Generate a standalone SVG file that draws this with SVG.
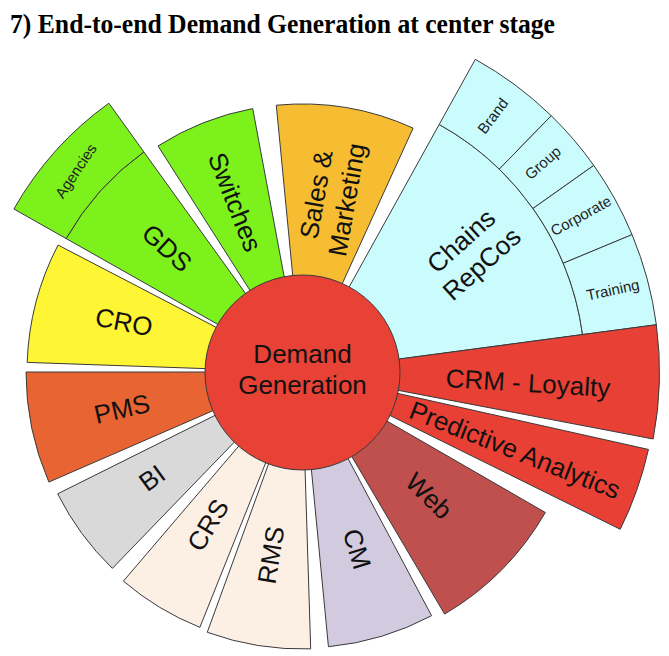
<svg xmlns="http://www.w3.org/2000/svg" width="669" height="656" viewBox="0 0 669 656">
<style>
.seg{stroke:#3a3a3a;stroke-width:1;stroke-linejoin:round}
.lbl{font-family:"Liberation Sans",Arial,sans-serif;font-size:26px;fill:#111;text-anchor:middle}
.sm{font-family:"Liberation Sans",Arial,sans-serif;font-size:15px;fill:#222;text-anchor:middle}
.title{font-family:"Liberation Serif","Times New Roman",serif;font-weight:bold;font-size:28px;fill:#000}
</style>
<rect width="669" height="656" fill="#fff"/>
<text class="title" x="10" y="33" textLength="545" lengthAdjust="spacingAndGlyphs">7) End-to-end Demand Generation at center stage</text>

<g id="cro">
<path class="seg" fill="#fef535" d="M302,372 L27.17,362.40 A275,275 0 0 1 58.07,245.02 Z"/>
<text class="lbl" transform="translate(124,322) rotate(11)" y="9">CRO</text>
</g>
<g id="gds">
<path class="seg" fill="#7cf11c" d="M302,372 L66.13,238.55 A271,271 0 0 1 143.86,151.93 Z"/>
<text class="lbl" transform="translate(167,248) rotate(42)" y="9">GDS</text>
</g>
<g id="agencies">
<path class="seg" fill="#7cf11c" d="M66.13,238.55 L13.91,209.01 A331,331 0 0 1 108.85,103.20 L143.86,151.93 A271,271 0 0 0 66.13,238.55 Z"/>
<text class="sm" transform="translate(76,171) rotate(-56)" y="5">Agencies</text>
</g>
<g id="switches">
<path class="seg" fill="#7cf11c" d="M302,372 L158.00,145.97 A268,268 0 0 1 252.71,108.57 Z"/>
<text class="lbl" transform="translate(235,202) rotate(68.5)" y="9">Switches</text>
</g>
<g id="sales-marketing">
<path class="seg" fill="#f6bd33" d="M302,372 L276.31,105.23 A268,268 0 0 1 413.14,128.13 Z"/>
<text class="lbl" transform="translate(331,197) rotate(-80)"><tspan x="0" y="-6">Sales &amp;</tspan><tspan x="0" y="25">Marketing</tspan></text>
</g>
<g id="chains-repcos">
<path class="seg" fill="#cbfcfd" d="M302,372 L439.20,124.48 A283,283 0 0 1 582.52,334.57 Z"/>
<text class="lbl" transform="translate(471,252) rotate(-42)"><tspan x="0" y="-6">Chains</tspan><tspan x="0" y="25">RepCos</tspan></text>
</g>
<g id="brand">
<path class="seg" fill="#cbfcfd" d="M439.20,124.48 L475.32,59.32 A357.5,357.5 0 0 1 551.24,115.70 L499.30,169.11 A283,283 0 0 0 439.20,124.48 Z"/>
<text class="sm" transform="translate(493,116) rotate(-53)" y="5">Brand</text>
</g>
<g id="group">
<path class="seg" fill="#cbfcfd" d="M499.30,169.11 L551.24,115.70 A357.5,357.5 0 0 1 593.77,165.42 L532.97,208.47 A283,283 0 0 0 499.30,169.11 Z"/>
<text class="sm" transform="translate(543,163) rotate(-41)" y="5">Group</text>
</g>
<g id="corporate">
<path class="seg" fill="#cbfcfd" d="M532.97,208.47 L593.77,165.42 A357.5,357.5 0 0 1 632.05,234.61 L563.27,263.24 A283,283 0 0 0 532.97,208.47 Z"/>
<text class="sm" transform="translate(581,216) rotate(-29)" y="5">Corporate</text>
</g>
<g id="training">
<path class="seg" fill="#cbfcfd" d="M563.27,263.24 L632.05,234.61 A357.5,357.5 0 0 1 656.36,324.72 L582.52,334.57 A283,283 0 0 0 563.27,263.24 Z"/>
<text class="sm" transform="translate(613,290) rotate(-12)" y="5">Training</text>
</g>
<g id="crm-loyalty">
<path class="seg" fill="#e94035" d="M302,372 L656.36,324.72 A357.5,357.5 0 0 1 653.17,438.99 Z"/>
<text class="lbl" transform="translate(528,383) rotate(3.5)" y="9">CRM - Loyalty</text>
</g>
<g id="predictive-analytics">
<path class="seg" fill="#e94035" d="M302,372 L648.45,449.44 A355,355 0 0 1 620.25,529.29 Z"/>
<text class="lbl" transform="translate(515,450) rotate(21.5)" y="9">Predictive Analytics</text>
</g>
<g id="web">
<path class="seg" fill="#c0504d" d="M302,372 L545.35,512.5 A281,281 0 0 1 444.62,614.12 Z"/>
<text class="lbl" transform="translate(429,496) rotate(44.5)" y="9">Web</text>
</g>
<g id="cm">
<path class="seg" fill="#d2cbe0" d="M302,372 L431.57,615.69 A276,276 0 0 1 328.45,646.73 Z"/>
<text class="lbl" transform="translate(357,549) rotate(73)" y="9">CM</text>
</g>
<g id="rms">
<path class="seg" fill="#fcefe4" d="M302,372 L310.70,648.86 A277,277 0 0 1 207.26,632.29 Z"/>
<text class="lbl" transform="translate(271,555) rotate(-81)" y="9">RMS</text>
</g>
<g id="crs">
<path class="seg" fill="#fcefe4" d="M302,372 L199.87,627.33 A275,275 0 0 1 123.40,581.11 Z"/>
<text class="lbl" transform="translate(208,525) rotate(-59)" y="9">CRS</text>
</g>
<g id="bi">
<path class="seg" fill="#d9d9d9" d="M302,372 L112.36,568.38 A273,273 0 0 1 57.68,493.81 Z"/>
<text class="lbl" transform="translate(152,478) rotate(-36)" y="9">BI</text>
</g>
<g id="pms">
<path class="seg" fill="#e96433" d="M302,372 L48.89,482.06 A276,276 0 0 1 26,372 Z"/>
<text class="lbl" transform="translate(122,409) rotate(-13)" y="9">PMS</text>
</g>
<g id="demand-generation">
<circle class="seg" cx="302.5" cy="372.5" r="97.5" fill="#e84135"/>
<text class="lbl"><tspan x="302.5" y="363">Demand</tspan><tspan x="302.5" y="394">Generation</tspan></text>
</g>
</svg>
